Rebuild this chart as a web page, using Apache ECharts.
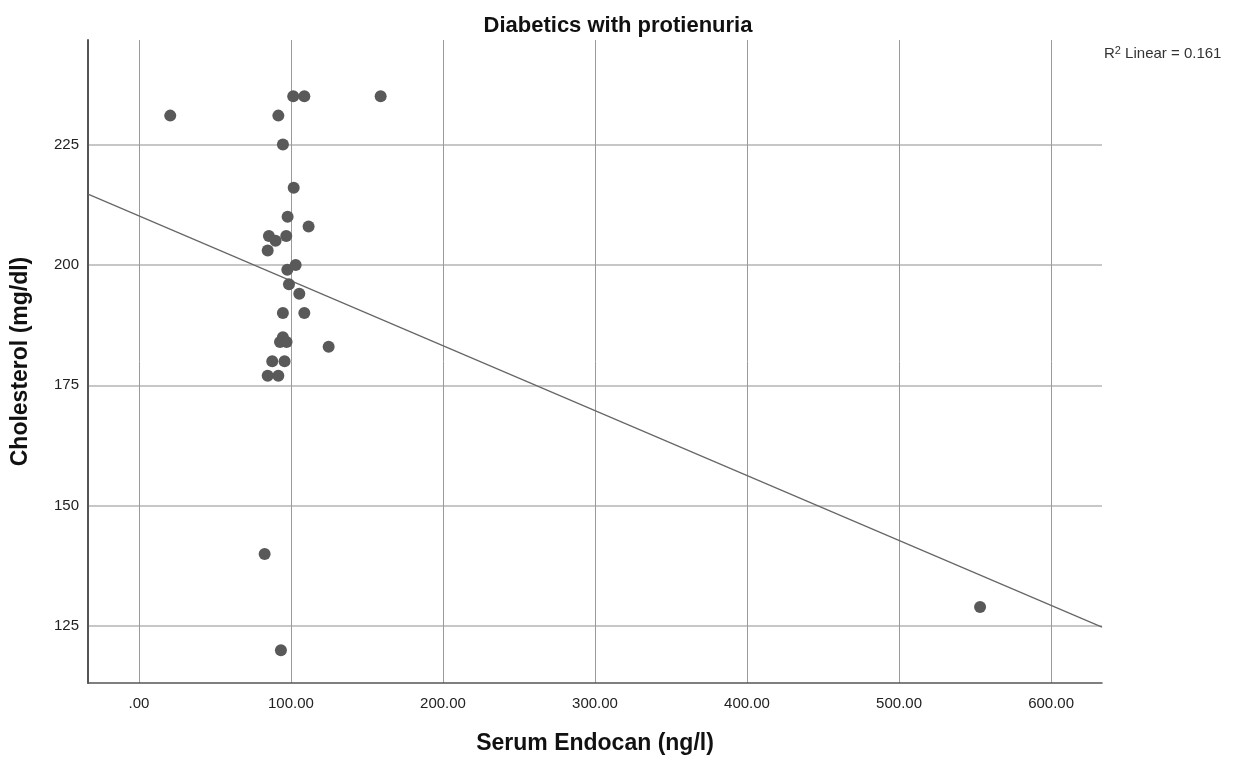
<!DOCTYPE html>
<html>
<head>
<meta charset="utf-8">
<script src="https://cdn.jsdelivr.net/npm/echarts@6/dist/echarts.min.js"></script>
<style>html,body{margin:0;padding:0;background:#fff}#c{width:1236px;height:760px}</style>
</head>
<body>
<div id="c"></div>
<script>
// Serum Endocan (ng/l)
const endocan = [101.5,108.8,159.0,20.6,91.7,94.7,101.8,97.8,111.6,85.5,89.9,96.9,84.7,103.1,97.6,98.7,105.5,94.7,108.8,94.7,92.8,97.1,124.8,87.7,95.8,84.7,91.7,82.7,93.4,553.3];
// Cholesterol (mg/dl)
const cholesterol = [235,235,235,231,231,225,216,210,208,206,205,206,203,200,199,196,194,190,190,185,184,184,183,180,180,177,177,140,120,129];
const xTicks = [0,100,200,300,400,500,600];
const yTicks = [125,150,175,200,225];
const title = 'Diabetics with protienuria';
const xName = 'Serum Endocan (ng/l)';
const yName = 'Cholesterol (mg/dl)';
const r2Label = '0.161';

const X_MIN = -33.5, X_MAX = 633.5, Y_MIN = 113.2, Y_MAX = 246.7;

// least squares fit
const n = endocan.length;
const mx = endocan.reduce((a,b)=>a+b,0)/n;
const my = cholesterol.reduce((a,b)=>a+b,0)/n;
let sxy=0,sxx=0;
for(let i=0;i<n;i++){sxy+=(endocan[i]-mx)*(cholesterol[i]-my);sxx+=(endocan[i]-mx)**2;}
const slope = sxy/sxx, icpt = my - slope*mx;
const fitLine = [[X_MIN, icpt+slope*X_MIN],[X_MAX, icpt+slope*X_MAX]];

const pts = endocan.map((x,i)=>[x,cholesterol[i]]);
const FONT = 'Liberation Sans, Arial, sans-serif';

const chart = echarts.init(document.getElementById('c'), null, {renderer:'canvas'});
chart.setOption({
  animation:false,
  backgroundColor:'#fff',
  title:{text:title,left:'center',top:10,textStyle:{fontFamily:FONT,fontSize:22,fontWeight:'bold',color:'#111'}},
  grid:{left:88,right:134,top:40,bottom:75,containLabel:false},
  xAxis:{
    type:'value',min:X_MIN,max:X_MAX,
    name:xName,nameLocation:'middle',nameGap:49,
    nameTextStyle:{fontFamily:FONT,fontSize:23,fontWeight:'bold',color:'#111'},
    axisLine:{show:true,onZero:false,lineStyle:{color:'#555',width:1.5}},
    axisTick:{show:false,customValues:xTicks},
    axisLabel:{customValues:xTicks,margin:13,fontFamily:FONT,fontSize:15,color:'#222',
      formatter:v=>{let s=Number(v).toFixed(2);return s.startsWith('0')?s.slice(1):s;}},
    splitLine:{show:true,lineStyle:{color:'#9a9a9a',width:1}}
  },
  yAxis:{
    type:'value',min:Y_MIN,max:Y_MAX,
    name:yName,nameLocation:'middle',nameGap:56,
    nameTextStyle:{fontFamily:FONT,fontSize:23,fontWeight:'bold',color:'#111'},
    axisLine:{show:true,onZero:false,lineStyle:{color:'#555',width:2}},
    axisTick:{show:false,customValues:yTicks},
    axisLabel:{customValues:yTicks,margin:9,fontFamily:FONT,fontSize:15,color:'#222'},
    splitLine:{show:true,lineStyle:{color:'#b5b5b5',width:1.5}}
  },
  graphic:[{
    type:'text',left:1104,top:45,
    style:{
      text:'R{sup|2} Linear = '+r2Label,
      rich:{sup:{fontSize:11,verticalAlign:'top',padding:[0,0,7,0],fontFamily:FONT,fill:'#333'}},
      fontFamily:FONT,fontSize:15,fill:'#333'
    }
  }],
  series:[
    {type:'line',data:fitLine,symbol:'none',silent:true,lineStyle:{color:'#666',width:1.2},z:2},
    {type:'scatter',data:pts,symbolSize:12,itemStyle:{color:'#595959',opacity:1},z:3}
  ]
});
</script>
</body>
</html>
